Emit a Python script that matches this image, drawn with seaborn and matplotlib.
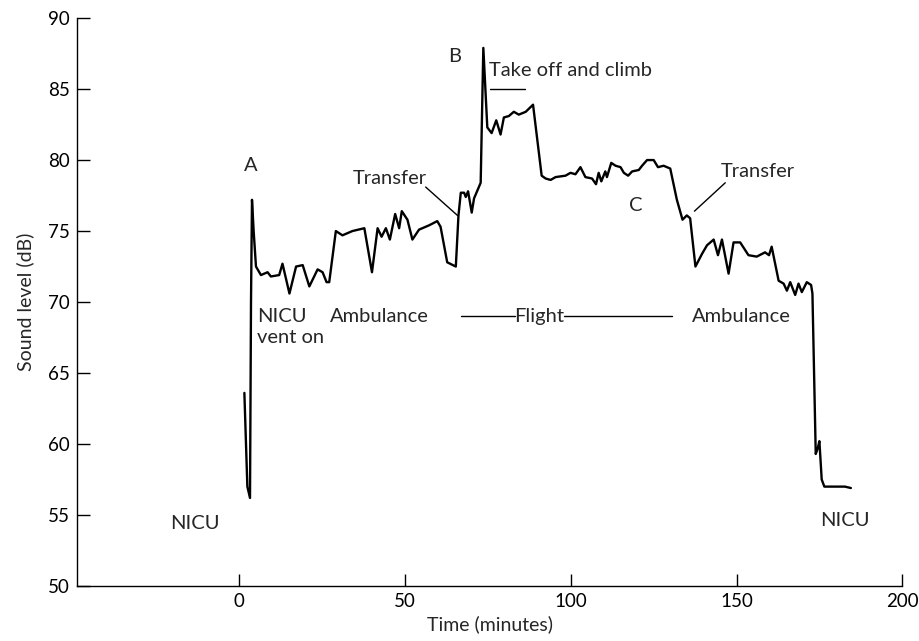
import numpy as np
import pandas as pd
import seaborn as sns
import matplotlib
matplotlib.use("Agg")
import matplotlib.pyplot as plt

# sound level trace (minutes, dB)
time_min = [1.5, 2.4, 3.2, 3.5, 3.8, 4.3, 5.0, 6.5, 8.5, 9.5, 12.0, 13.0, 15.1, 17.1, 19.1,
            21.1, 23.6, 25.1, 26.3, 27.1, 29.1, 31.1, 34.1, 37.7, 40.0, 41.7, 42.9, 44.2,
            45.4, 47.0, 48.2, 49.0, 50.7, 52.2, 54.2, 57.2, 59.7, 60.7, 62.7, 65.3, 66.1,
            66.8, 67.8, 68.3, 69.0, 70.1, 70.8, 72.8, 73.6, 74.8, 76.1, 77.5, 78.8, 79.8,
            81.3, 82.8, 84.3, 86.4, 88.6, 89.9, 91.2, 92.4, 93.9, 95.4, 98.4, 99.9, 101.4,
            102.9, 104.4, 106.4, 107.6, 108.4, 109.2, 110.4, 110.9, 112.2, 113.5, 115.0,
            116.0, 117.3, 118.5, 120.5, 121.5, 123.0, 125.0, 126.3, 128.0, 130.0, 132.0,
            133.7, 135.0, 136.0, 137.6, 139.6, 141.1, 143.1, 144.4, 145.6, 147.6, 149.1,
            151.1, 153.6, 156.1, 158.6, 159.8, 160.6, 162.7, 164.2, 165.2, 166.2, 167.7,
            168.7, 169.7, 171.2, 172.5, 172.9, 173.9, 174.5, 175.0, 175.7, 176.5, 179.7,
            182.7, 184.5]
level_db = [63.6, 57.0, 56.2, 70.0, 77.2, 75.0, 72.5, 71.9, 72.1, 71.8, 71.9, 72.7, 70.6, 72.5,
            72.6, 71.1, 72.3, 72.1, 71.4, 71.4, 75.0, 74.7, 75.0, 75.2, 72.1, 75.2, 74.6,
            75.2, 74.4, 76.2, 75.2, 76.4, 75.8, 74.4, 75.1, 75.4, 75.7, 75.3, 72.8, 72.5,
            76.1, 77.7, 77.7, 77.4, 77.8, 76.3, 77.3, 78.4, 87.9, 82.3, 81.9, 82.8, 81.8,
            83.0, 83.1, 83.4, 83.2, 83.4, 83.9, 81.4, 78.9, 78.7, 78.6, 78.8, 78.9, 79.1,
            79.0, 79.5, 78.8, 78.7, 78.3, 79.1, 78.5, 79.2, 78.8, 79.8, 79.6, 79.5, 79.1,
            78.9, 79.2, 79.3, 79.6, 80.0, 80.0, 79.5, 79.6, 79.4, 77.2, 75.8, 76.1, 75.9,
            72.5, 73.4, 74.0, 74.4, 73.3, 74.4, 72.0, 74.2, 74.2, 73.3, 73.2, 73.5, 73.3,
            73.9, 71.5, 71.3, 70.8, 71.4, 70.5, 71.3, 70.7, 71.4, 71.2, 70.6, 59.3, 59.7,
            60.2, 57.5, 57.0, 57.0, 57.0, 56.9]

df = pd.DataFrame({"time": time_min, "level": level_db})

sns.set_style("ticks")
plt.rcParams["font.family"] = ["Lato", "DejaVu Sans"]

fig = plt.figure(figsize=(9.2, 6.41), dpi=100)
ax = fig.add_axes([0.0837, 0.0858, 0.897, 0.886])

sns.lineplot(data=df, x="time", y="level", sort=False, color="black", linewidth=1.7, ax=ax)

ax.set_xlim(-49, 200)
ax.set_ylim(50, 90)
ax.set_xticks([0, 50, 100, 150, 200])
ax.set_yticks(range(50, 91, 5))
ax.tick_params(direction="in", length=9, width=1, labelsize=13.5, colors="black", pad=5)
ax.set_xlabel("Time (minutes)", fontsize=14, labelpad=4)
ax.set_ylabel("Sound level (dB)", fontsize=14, labelpad=10)
sns.despine(ax=ax)
for s in ["left", "bottom"]:
    ax.spines[s].set_linewidth(1.0)
    ax.spines[s].set_color("black")

fs = 14.5
# event labels
ax.text(3.3, 79.6, "A", fontsize=fs, ha="center", va="center")
ax.text(64.8, 87.3, "B", fontsize=fs, ha="center", va="center")
ax.text(119.6, 76.8, "C", fontsize=fs, ha="center", va="center")

ax.text(75.3, 86.3, "Take off and climb", fontsize=fs, ha="left", va="center")
ax.plot([75.5, 86.1], [85.0, 85.0], color="black", lw=1)

ax.text(45.5, 78.7, "Transfer", fontsize=fs, ha="center", va="center")
ax.plot([56.2, 65.8], [78.1, 76.1], color="black", lw=1)
ax.text(156.3, 79.2, "Transfer", fontsize=fs, ha="center", va="center")
ax.plot([146.6, 137.3], [78.4, 76.4], color="black", lw=1)

ax.text(-13.3, 54.4, "NICU", fontsize=fs, ha="center", va="center")
ax.text(182.8, 54.6, "NICU", fontsize=fs, ha="center", va="center")
ax.text(5.4, 69.0, "NICU", fontsize=fs, ha="left", va="center")
ax.text(5.4, 67.5, "vent on", fontsize=fs, ha="left", va="center")
ax.text(42.2, 69.0, "Ambulance", fontsize=fs, ha="center", va="center")
ax.text(151.5, 69.0, "Ambulance", fontsize=fs, ha="center", va="center")

ax.text(90.4, 69.0, "Flight", fontsize=fs, ha="center", va="center")
ax.plot([66.9, 83.1], [69.0, 69.0], color="black", lw=1)
ax.plot([97.9, 130.4], [69.0, 69.0], color="black", lw=1)

fig.savefig("out.png", dpi=100)
